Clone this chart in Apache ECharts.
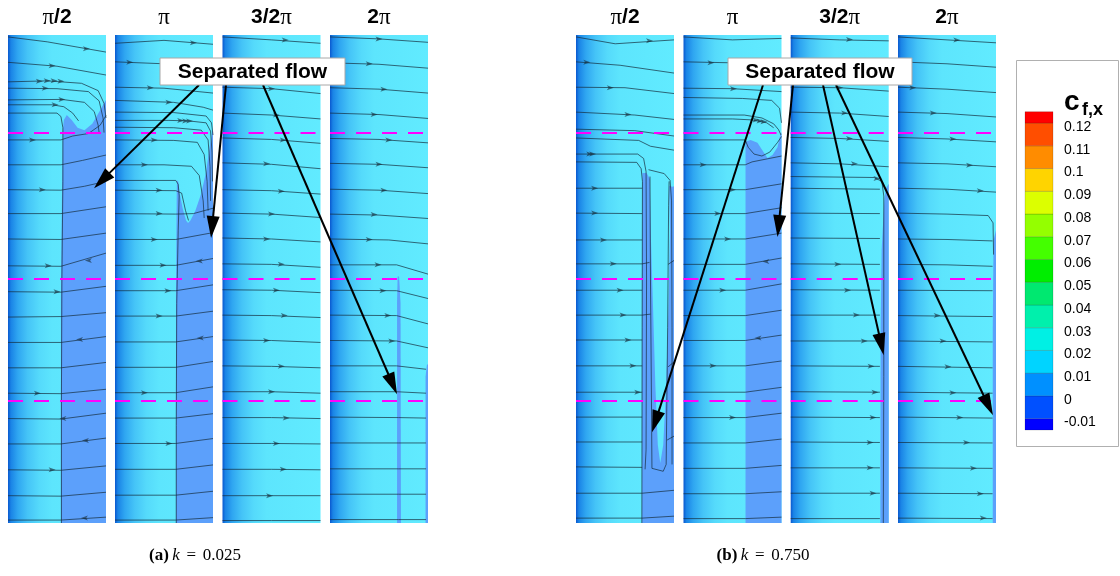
<!DOCTYPE html>
<html>
<head>
<meta charset="utf-8">
<script src="https://cdn.jsdelivr.net/npm/echarts@6/dist/echarts.min.js"></script>
<style>
html,body{margin:0;padding:0;background:#fff;}
#chart{width:1120px;height:576px;}
</style>
</head>
<body>
<div id="chart"></div>
<script>
// ---------- data ----------
const phaseLabels = ['π/2', 'π', '3/2π', '2π'];
const panelTags = ['(a)', '(b)'];
const kValues = ['0.025', '0.750'];
const dashLevels = [80, 50, 25];          // dashed reference heights (% of span)
const stripExtent = [0, 0, 100, 100];     // chordwise %, spanwise %

// colour legend: contour levels, tick labels and band colours (bottom to top)
const cbLevels = [-0.01, 0, 0.01, 0.02, 0.03, 0.04, 0.05, 0.06, 0.07, 0.08, 0.09, 0.1, 0.11, 0.12];
const cbLabels = ['-0.01', '0', '0.01', '0.02', '0.03', '0.04', '0.05', '0.06', '0.07', '0.08', '0.09', '0.1', '0.11', '0.12'];
const cbRange = [-0.015, 0.125];
const cbColors = ['#0000ff', '#0050ff', '#0090ff', '#00d4ff', '#00f0e4', '#00f0ac', '#00e870', '#00ee00', '#44ff00', '#94ff00', '#dcff00', '#ffd400', '#ff8c00', '#ff4e00', '#ff0000'];

// separated-flow regions (cf,x < 0), polygons in strip %
const sepA1 = [[[54,0],[54,46],[55,66],[56,80.5],[57,82.6],[60,83.6],[65,82.6],[71,81],[78,80.5],[86,81.8],[93,84.2],[98,86],[100,86.7],[100,0]]];
const sepA2 = [[[62.2,0],[62.2,46],[63,68],[63.3,70.2],[64.5,70],[66,67.5],[69,64.5],[72.5,62],[74.5,61.5],[77,62],[82,64],[88,67.5],[93,72],[96.5,77],[99,80],[100,80.5],[100,0]]];
const sepA3 = [];
const sepA4 = [[[68.4,0],[68.4,45],[69,50.5],[70.5,50.5],[72,45],[72.4,0]], [[97.5,0],[97.5,30],[99,32.5],[100,32.5],[100,0]]];
const sepB1 = [[[67.3,0],[67.3,50],[67.8,71.7],[72,71.7],[75.5,70.5],[96,69],[98.5,68.9],[100,69],[100,0]]];
const sepB2 = [[[63.3,0],[63.3,60],[63.3,78.1],[68.4,78.5],[75.5,77.9],[81.6,76],[85.7,74.8],[90.8,75.4],[95.9,77],[99,79.8],[100,80],[100,0]]];
const sepB3 = [[[91.5,0],[91.8,40],[92.8,56],[95.5,66],[97,68.5],[100,69.5],[100,0]]];
const sepB4 = [[[96.7,0],[96.7,40],[97.5,58],[100,60],[100,0]]];
// attached tongue inside the separated band of (b) π/2
const attachedB1 = [[[75.5,72],[85,71.5],[95,70],[96,60],[94.5,45],[92,28],[89,16],[86,12.3],[83.5,16],[81,28],[78.5,45],[76.5,58],[75.5,68]]];

// skin-friction streamlines, strip %
const streamA1 = [
 [[0,99.6],[40,98.6],[80,97.2],[100,96.5]],
 [[0,94.4],[50,93.6],[100,91.8]],
 [[0,90.4],[40,90.6],[75,90.1],[92,88.6],[98,86],[100,83]],
 [[0,89.1],[50,89],[82,88.4],[93,86.5],[97,83],[98,80]],
 [[0,86.7],[55,86.8],[78,86.2],[88,84.3],[92,81.5],[93,80]],
 [[0,85.7],[45,85.7],[57,85.3],[66,84],[72,82.4]],
 [[0,84],[50,84],[54,83.3],[56,81],[56,70],[55,50],[54.5,25],[54.5,0]],
 [[0,78.5],[54,78.5],[66,79.3],[82,79.8],[94,81.5],[100,83.5]],
 [[0,73.4],[54,73.4],[76,74.3],[100,75.4]],
 [[0,68.3],[54,68.2],[78,69],[100,70]],
 [[0,63.4],[54,63.4],[100,64.8]],
 [[0,58.2],[54,58.1],[100,59.4]],
 [[0,52.7],[54,52.6],[100,55.3]],
 [[0,47.4],[54,47.3],[100,48.5]],
 [[0,42.2],[54,42.3],[100,43.1]],
 [[0,37],[54,37],[100,38.2]],
 [[0,31.8],[54,31.8],[100,32.9]],
 [[0,26.6],[54,26.5],[100,27.4]],
 [[0,21.4],[54,21.3],[100,22.5]],
 [[0,16.2],[54,16.2],[100,17.4]],
 [[0,10.9],[54,10.8],[100,11.7]],
 [[0,5.6],[54,5.5],[100,6.3]],
 [[0,0.6],[54,0.6],[100,1.2]]
];
const streamA2 = [
 [[0,98.3],[50,98.9],[100,98.1]],
 [[0,94.5],[50,94.1],[100,93.1]],
 [[0,89.3],[50,89.1],[100,88.1]],
 [[0,86.6],[60,86.2],[90,85.2],[100,84.6]],
 [[0,84.2],[60,84.1],[93,83.4],[98.5,82],[100,79.5]],
 [[0,82.5],[55,82.5],[75,82.4],[93,82],[97.5,80.3],[99,76],[99.5,70]],
 [[0,81.1],[60,81],[88,80.5],[95,78.5],[97,73],[97.5,66]],
 [[0,78.5],[60,78.4],[84,78],[91,75.5],[94,70],[95,64]],
 [[0,73.4],[50,73.4],[78,73.1],[86,71.2],[90,66],[91,62.5]],
 [[0,70.2],[62,70.2],[64.5,69.4],[65.5,67],[64.5,60],[63,45],[62.5,20],[62.5,0]],
 [[0,68.2],[62,68.1],[68,67.6],[72,64],[75,62]],
 [[0,63.4],[62,63.3],[80,63.4],[100,64.5]],
 [[0,58.1],[62,58.1],[100,59.5]],
 [[0,52.8],[62,52.8],[100,54.2]],
 [[0,47.6],[62,47.6],[100,48.8]],
 [[0,42.4],[62,42.4],[100,43.4]],
 [[0,37.1],[62,37.1],[100,38.2]],
 [[0,31.9],[62,31.9],[100,33.1]],
 [[0,26.7],[62,26.7],[100,27.9]],
 [[0,21.5],[62,21.5],[100,22.4]],
 [[0,16.3],[62,16.3],[100,17.3]],
 [[0,11],[62,11],[100,11.9]],
 [[0,5.7],[62,5.7],[100,6.5]],
 [[0,0.6],[62,0.6],[100,1.1]]
];
const streamA3 = [
 [[0,99.6],[50,99],[100,98.3]],
 [[0,94.3],[50,93.9],[100,93]],
 [[0,89.3],[50,89],[100,88]],
 [[0,84],[50,83.6],[100,82.8]],
 [[0,78.9],[50,78.6],[100,77.8]],
 [[0,73.8],[50,73.5],[100,72.6]],
 [[0,68.3],[50,68.1],[100,67.4]],
 [[0,63.5],[50,63.3],[100,62.6]],
 [[0,58.4],[50,58.2],[100,57.6]],
 [[0,53.1],[50,53],[100,52.4]],
 [[0,47.8],[50,47.7],[100,47.2]],
 [[0,42.6],[50,42.5],[100,42.1]],
 [[0,37.5],[50,37.4],[100,37]],
 [[0,32.2],[50,32.1],[100,31.8]],
 [[0,26.9],[50,26.9],[100,26.6]],
 [[0,21.6],[50,21.6],[100,21.4]],
 [[0,16.3],[50,16.3],[100,16.2]],
 [[0,11],[50,11],[100,10.9]],
 [[0,5.6],[50,5.6],[100,5.6]],
 [[0,0.5],[50,0.5],[100,0.5]]
];
const streamA4 = [
 [[0,99.6],[50,99.2],[100,98.5]],
 [[0,94.3],[50,94],[100,93.2]],
 [[0,89.2],[50,88.9],[100,88.1]],
 [[0,84],[50,83.7],[100,82.9]],
 [[0,78.8],[50,78.6],[100,77.9]],
 [[0,73.7],[50,73.5],[100,72.8]],
 [[0,68.4],[50,68.2],[100,67.5]],
 [[0,63.3],[50,63.1],[100,62.4]],
 [[0,58.2],[60,58],[100,57.2]],
 [[0,52.9],[68,52.9],[100,51]],
 [[0,47.7],[68,47.6],[100,46]],
 [[0,42.6],[68,42.5],[100,40.8]],
 [[0,37.4],[68,37.3],[100,35.9]],
 [[0,32.2],[68,32.2],[98,31.5]],
 [[0,26.9],[68,26.9],[98,26.6]],
 [[0,21.7],[70,21.6],[98,21.5]],
 [[0,16.4],[70,16.4],[98,16.4]],
 [[0,11.1],[70,11.1],[98,11.1]],
 [[0,5.9],[70,5.9],[98,5.9]],
 [[0,0.7],[70,0.7],[98,0.7]]
];
const streamB1 = [
 [[0,99.6],[40,98.2],[100,99]],
 [[0,94.5],[45,93.8],[100,92.2]],
 [[0,89.3],[50,89.2],[100,88]],
 [[0,84.2],[60,83.6],[100,82.7]],
 [[0,80.7],[60,80.4],[100,79.3]],
 [[0,78.9],[64,78.4],[76,77.2],[100,76.4]],
 [[0,75.6],[63,75.6],[69,74.7],[71.5,72],[72,50],[71.5,15],[70.5,11]],
 [[0,74],[62,73.9],[66.5,72.6],[67.8,70],[67.5,40],[67.2,0]],
 [[74,72.4],[90,71.6],[96,70.2],[97.5,66],[98,40],[98,12]],
 [[75.5,71],[76,50],[77,25],[77.5,11.2],[89,10.6],[92,12],[93.5,40],[94.5,65],[95,70]],
 [[0,68.6],[67.5,68.6]],
 [[0,63.5],[67.5,63.4]],
 [[0,58],[67.5,58]],
 [[0,53.1],[67.5,53.1],[75,53.4]],
 [[0,47.7],[67.5,47.7]],
 [[0,42.6],[67.5,42.6],[76,42.8]],
 [[0,37.5],[67.5,37.5]],
 [[0,32.2],[67.5,32.2]],
 [[0,26.8],[67.5,26.8]],
 [[0,21.7],[67.5,21.7]],
 [[0,16.6],[67.5,16.6]],
 [[0,11.5],[67.5,11.4]],
 [[0,6.1],[67.5,6.1],[100,6.7]],
 [[0,1],[67.5,1],[100,1.4]],
 [[94,53],[100,53.8]],
 [[94,32],[100,33]],
 [[93,17],[100,17.8]]
];
const streamB2 = [
 [[0,99.6],[50,99],[100,99.3]],
 [[0,94.5],[50,94.3],[100,93.6]],
 [[0,89.1],[50,89],[100,88.4]],
 [[0,87.2],[60,87],[90,86.6],[98,85],[100,82]],
 [[0,83.6],[62,83.6],[80,83],[92,81.8],[97,80.6],[99.5,79.5]],
 [[0,82.8],[50,82.8],[70,82.6],[85,82],[92,81]],
 [[0,78.5],[63,78.5],[66,77],[72,75.6],[80,75.2],[88,76],[96,78],[100,79.2]],
 [[0,73.4],[63,73.4],[70,74],[100,75.2]],
 [[0,68.3],[63,68.3],[100,69.5]],
 [[0,63.4],[63,63.4],[100,64.6]],
 [[0,58.2],[63,58.2],[100,59.4]],
 [[0,53],[63,53],[100,54.3]],
 [[0,47.7],[63,47.7],[100,49]],
 [[0,42.5],[63,42.5],[100,43.6]],
 [[0,37.4],[63,37.4],[100,38.5]],
 [[0,32.2],[63,32.2],[100,33.2]],
 [[0,26.8],[63,26.8],[100,27.8]],
 [[0,21.6],[63,21.6],[100,22.5]],
 [[0,16.4],[63,16.4],[100,17.2]],
 [[0,11.2],[63,11.2],[100,11.8]],
 [[0,6],[63,6],[100,6.4]],
 [[0,0.9],[63,0.9],[100,1.2]]
];
const streamB3 = [
 [[0,99.4],[50,99],[100,98.8]],
 [[0,94.4],[50,94],[100,93.4]],
 [[0,89.3],[50,89.2],[100,88.5]],
 [[0,84.2],[50,84],[100,83.3]],
 [[0,79],[50,78.8],[100,78.2]],
 [[0,73.8],[50,73.6],[100,73]],
 [[0,71],[85,70.8],[93,70],[95,67],[95,30],[94.5,0]],
 [[0,68.6],[91,68.4]],
 [[0,63.5],[91,63.4]],
 [[0,58.4],[91,58.3]],
 [[0,53.1],[91,53]],
 [[0,47.8],[91,47.7]],
 [[0,42.6],[91,42.6]],
 [[0,37.3],[91,37.3]],
 [[0,32.2],[91,32.1]],
 [[0,26.9],[91,26.8]],
 [[0,21.7],[91,21.6]],
 [[0,16.6],[91,16.5]],
 [[0,11.3],[91,11.3]],
 [[0,6.1],[91,6.1]],
 [[0,0.9],[91,0.9]]
];
const streamB4 = [
 [[0,99.6],[50,99],[100,98.4]],
 [[0,94.5],[50,94.1],[100,93.4]],
 [[0,89.3],[50,88.9],[100,88.2]],
 [[0,84.2],[50,83.9],[100,83.2]],
 [[0,79],[50,78.7],[100,78.1]],
 [[0,73.8],[50,73.6],[100,73]],
 [[0,68.6],[50,68.4],[100,67.8]],
 [[0,63.5],[50,63.3],[92,63],[97,61.5],[97.5,55]],
 [[0,58.2],[50,58.1],[96.5,57.8]],
 [[0,53],[50,52.9],[96.5,52.6]],
 [[0,47.7],[96.5,47.6]],
 [[0,42.5],[96.5,42.3]],
 [[0,37.3],[96.5,37.1]],
 [[0,32.1],[96.5,31.8]],
 [[0,26.8],[96.5,26.6]],
 [[0,21.7],[96.5,21.5]],
 [[0,16.5],[96.5,16.4]],
 [[0,11.3],[96.5,11.2]],
 [[0,6.1],[96.5,6]],
 [[0,1],[96.5,0.9]]
];

// flow-direction arrowheads: [x %, y %, direction deg]
const arrowsA1 = [[80,97.2,0],[45,93.7,0],[32,90.5,0],[40,90.6,0],[47,90.6,0],[54,90.5,0],[38,89.1,0],[55,86.8,0],[48,85.7,0],[25,78.5,0],[35,68.3,0],[41,52.7,0],[82,53.8,180],[50,47.4,0],[73,37.6,180],[30,26.6,0],[56,21.4,180],[79,16.9,180],[45,10.9,0],[78,1,180]];
const arrowsA2 = [[80,98.4,0],[15,94.4,0],[36,89.2,0],[55,86.2,0],[67,82.5,0],[72,82.4,0],[76,82.4,0],[40,78.5,0],[30,73.4,0],[45,68.2,0],[45,63.4,0],[40,58.1,0],[49,52.8,0],[86,53.7,180],[54,47.6,0],[45,42.4,0],[87,37.9,180],[30,26.7,0],[55,16.3,0]];
const arrowsA3 = [[64,99,0],[60,93.8,0],[50,89,0],[55,83.6,0],[62,78.5,0],[45,73.6,0],[60,68,0],[50,63.3,0],[45,58.2,0],[60,53,0],[55,47.7,0],[63,42.5,0],[45,37.4,0],[60,32.1,0],[50,26.9,0],[65,21.5,0],[55,16.3,0],[62,11,0],[48,5.6,0]];
const arrowsA4 = [[50,99.2,0],[40,94.1,0],[55,88.9,0],[45,83.7,0],[60,78.5,0],[50,73.5,0],[55,68.2,0],[45,63.2,0],[40,58.1,0],[49,52.9,0],[54,47.6,0],[59,42.5,0],[63,37.3,0]];
const arrowsB1 = [[75,98.8,0],[11,94.4,0],[35,89.2,0],[53,83.7,0],[14,75.6,0],[17,75.6,0],[19,68.6,0],[19,63.5,0],[28,58,0],[38,53.1,0],[45,47.7,0],[48,42.6,0],[53,37.5,0],[58,32.2,0],[63,26.8,0]];
const arrowsB2 = [[28,94.3,0],[51,89,0],[74,82.6,0],[78,82.4,0],[82,82.2,0],[20,73.4,0],[50,68.3,0],[35,63.4,0],[45,58.2,0],[84,53.6,180],[40,47.7,0],[76,37.9,180],[30,32.2,0],[50,21.6,0]];
const arrowsB3 = [[60,99.1,0],[45,94.1,0],[50,89.2,0],[55,84,0],[60,78.8,0],[65,73.6,0],[88,70.6,0],[48,53,0],[58,47.7,0],[67,42.6,0],[75,37.3,0],[82,32.1,0],[86,26.8,0],[84,21.6,0],[81,16.5,0],[81,11.3,0],[84,6.1,0]];
const arrowsB4 = [[60,99,0],[15,89.2,0],[36,84,0],[56,78.7,0],[73,73.3,0],[84,68.1,0],[40,42.5,0],[46,37.3,0],[51,32,0],[56,26.7,0],[63,21.6,0],[70,16.5,0],[77,11.2,0],[84,6,0],[87,1,0]];

// callout targets: [strip index, x %, y %]
const calloutTipsA = [[0,87.8,68.6],[1,98,58.4],[3,68.4,26.4]];
const calloutTipsB = [[4,77.6,18.6],[5,95.9,58.6],[6,94.9,34.4],[7,96.9,22.1]];

// ---------- layout ----------
const stripLefts = [8, 115, 222.5, 330, 576, 683.5, 790.7, 898];
const STRIP_W = 98, STRIP_TOP = 35, STRIP_H = 488;
const strips = [
  {lines: streamA1, arrows: arrowsA1, sep: sepA1, attached: []},
  {lines: streamA2, arrows: arrowsA2, sep: sepA2, attached: []},
  {lines: streamA3, arrows: arrowsA3, sep: sepA3, attached: []},
  {lines: streamA4, arrows: arrowsA4, sep: sepA4, attached: []},
  {lines: streamB1, arrows: arrowsB1, sep: sepB1, attached: attachedB1},
  {lines: streamB2, arrows: arrowsB2, sep: sepB2, attached: []},
  {lines: streamB3, arrows: arrowsB3, sep: sepB3, attached: []},
  {lines: streamB4, arrows: arrowsB4, sep: sepB4, attached: []}
];

const SURFACE = {
  type: 'linear', x: 0, y: 0, x2: 1, y2: 0,
  colorStops: [
    {offset: 0, color: '#0a58cf'}, {offset: 0.03, color: '#1a84e6'},
    {offset: 0.1, color: '#2fa6f1'}, {offset: 0.2, color: '#45c4f7'},
    {offset: 0.32, color: '#55dafb'}, {offset: 0.45, color: '#5de5fd'},
    {offset: 1, color: '#61ebff'}
  ]
};
const SEP_COLOR = '#5ca0fb';
const ATTACHED_COLOR = '#60e8fe';
const STREAK = 'rgba(22,45,60,0.78)';

function titleRich(label) {
  const parts = label.split('π');
  return (parts[0] ? '{b|' + parts[0] + '}' : '') + '{p|π}' + (parts[1] ? '{b|' + parts[1] + '}' : '');
}

const grids = [], xAxes = [], yAxes = [], series = [];

strips.forEach((s, g) => {
  grids.push({left: stripLefts[g], top: STRIP_TOP, width: STRIP_W, height: STRIP_H});
  xAxes.push({
    gridIndex: g, type: 'value', min: 0, max: 100, position: 'top',
    axisLine: {show: false}, axisTick: {show: false}, axisLabel: {show: false}, splitLine: {show: false},
    name: titleRich(phaseLabels[g % 4]), nameLocation: 'middle', nameGap: 6,
    nameTextStyle: {
      rich: {
        p: {fontFamily: 'Liberation Serif', fontSize: 23, color: '#000'},
        b: {fontFamily: 'Liberation Sans', fontWeight: 'bold', fontSize: 21, color: '#000'}
      }
    }
  });
  yAxes.push({gridIndex: g, type: 'value', min: 0, max: 100, show: false});

  // shaded cylinder surface
  series.push({
    type: 'custom', xAxisIndex: g, yAxisIndex: g, silent: true, z: 1, clip: true,
    data: [stripExtent],
    renderItem: (p, api) => {
      const a = api.coord([api.value(0), api.value(3)]);
      const b = api.coord([api.value(2), api.value(1)]);
      return {type: 'rect', shape: {x: a[0], y: a[1], width: b[0] - a[0], height: b[1] - a[1]}, style: {fill: SURFACE}};
    }
  });
  // separated and re-attached regions
  const polys = s.sep.map(pts => ({pts, fill: SEP_COLOR})).concat(s.attached.map(pts => ({pts, fill: ATTACHED_COLOR})));
  if (polys.length) {
    series.push({
      type: 'custom', xAxisIndex: g, yAxisIndex: g, silent: true, z: 2, clip: true,
      data: polys.map((q, i) => [q.pts[0][0], q.pts[0][1], i]),
      renderItem: (p, api) => {
        const q = polys[api.value(2)];
        return {type: 'polygon', shape: {points: q.pts.map(v => api.coord(v))}, style: {fill: q.fill}};
      }
    });
  }
  // streamlines
  series.push({
    type: 'lines', coordinateSystem: 'cartesian2d', xAxisIndex: g, yAxisIndex: g,
    polyline: true, silent: true, z: 3, animation: false,
    data: s.lines.map(c => ({coords: c})),
    lineStyle: {color: STREAK, width: 0.9, opacity: 1}
  });
  // arrowheads + dashed reference lines
  series.push({
    type: 'scatter', xAxisIndex: g, yAxisIndex: g, silent: true, z: 4,
    data: s.arrows,
    symbol: 'path://M0,0L10,4L0,8L2.5,4Z',
    symbolSize: [7, 5],
    symbolRotate: v => v[2],
    itemStyle: {color: STREAK},
    markLine: {
      silent: true, symbol: 'none', label: {show: false}, animation: false,
      lineStyle: {color: '#ff00ff', type: [15, 11], width: 2},
      emphasis: {disabled: true},
      data: dashLevels.map(v => ({yAxis: v}))
    }
  });
});

// colour legend
const cbG = strips.length;
grids.push({left: 1025, top: 111.7, width: 28, height: 318.3});
xAxes.push({gridIndex: cbG, type: 'value', min: 0, max: 1, show: false});
yAxes.push({gridIndex: cbG, type: 'value', min: cbRange[0], max: cbRange[1], show: false});
series.push({
  type: 'custom', xAxisIndex: cbG, yAxisIndex: cbG, silent: true, z: 2,
  data: cbColors.map((c, i) => [i]),
  renderItem: (p, api) => {
    const i = api.value(0);
    const lo = i === 0 ? cbRange[0] : cbLevels[i - 1];
    const hi = i === cbLevels.length ? cbRange[1] : cbLevels[i];
    const a = api.coord([0, hi]), b = api.coord([1, lo]);
    return {type: 'rect', shape: {x: a[0], y: a[1], width: b[0] - a[0], height: b[1] - a[1]},
      style: {fill: cbColors[i], stroke: 'rgba(0,0,0,0.25)', lineWidth: 0.6}};
  }
});
series.push({
  type: 'custom', xAxisIndex: cbG, yAxisIndex: cbG, silent: true, z: 3,
  data: cbLevels.map((v, i) => [1, v, i]),
  renderItem: (p, api) => {
    const c = api.coord([api.value(0), api.value(1)]);
    return {type: 'text', x: c[0] + 11, y: c[1] + 4,
      style: {text: cbLabels[api.value(2)], font: '14px "Liberation Sans"', fill: '#000', align: 'left', verticalAlign: 'middle'}};
  }
});

const chart = echarts.init(document.getElementById('chart'), null, {renderer: 'canvas'});
chart.setOption({
  animation: false,
  backgroundColor: '#fff',
  grid: grids, xAxis: xAxes, yAxis: yAxes, series: series
});

// ---------- callouts, legend frame, captions ----------
function arrow(sx, sy, tx, ty) {
  const dx = tx - sx, dy = ty - sy, L = Math.hypot(dx, dy);
  const ux = dx / L, uy = dy / L, px = -uy, py = ux;
  const hl = 22, hw = 6.5;
  const bx = tx - ux * hl, by = ty - uy * hl;
  return [
    {type: 'line', z: 100, shape: {x1: sx, y1: sy, x2: bx + ux * 3, y2: by + uy * 3}, style: {stroke: '#000', lineWidth: 2}},
    {type: 'polygon', z: 100, shape: {points: [[tx, ty], [bx + px * hw, by + py * hw], [bx - px * hw, by - py * hw]]}, style: {fill: '#000'}}
  ];
}
function callout(box, starts, tips) {
  const [bx, by, bw, bh] = box;
  let els = [];
  tips.forEach((t, i) => {
    const tip = chart.convertToPixel({gridIndex: t[0]}, [t[1], t[2]]);
    els = els.concat(arrow(bx + starts[i], by + bh, tip[0], tip[1]));
  });
  els.push({type: 'rect', z: 101, shape: {x: bx, y: by, width: bw, height: bh}, style: {fill: '#fff', stroke: '#a8a8a8', lineWidth: 1}});
  els.push({type: 'text', z: 102, style: {text: 'Separated flow', x: bx + bw / 2, y: by + bh / 2 + 1, align: 'center', verticalAlign: 'middle', font: 'bold 21px "Liberation Sans"', fill: '#000'}});
  return els;
}
function caption(cx, tag, k) {
  return {type: 'text', z: 100, style: {
    text: '{b|' + tag + '} {i|k}  {n|=}  {n|' + k + '}', x: cx, y: 556, align: 'center', verticalAlign: 'middle',
    rich: {
      b: {fontFamily: 'Liberation Serif', fontWeight: 'bold', fontSize: 17, fill: '#000'},
      i: {fontFamily: 'Liberation Serif', fontStyle: 'italic', fontSize: 17, fill: '#000'},
      n: {fontFamily: 'Liberation Serif', fontSize: 17, fill: '#000'}
    }
  }};
}

let graphics = [];
graphics = graphics.concat(callout([160, 58, 185, 27], [39, 66, 103], calloutTipsA));
graphics = graphics.concat(callout([728, 58, 184, 27], [35, 65, 95, 108], calloutTipsB));
graphics.push({type: 'rect', z: 1, shape: {x: 1016.5, y: 60.5, width: 102, height: 386}, style: {fill: '#fff', stroke: '#b0b0b0', lineWidth: 1}});
graphics.push({type: 'text', z: 5, style: {text: 'c', x: 1064, y: 116, verticalAlign: 'bottom', font: 'bold 28px "Liberation Sans"', fill: '#000'}});
graphics.push({type: 'text', z: 5, style: {text: 'f,x', x: 1082, y: 119, verticalAlign: 'bottom', font: 'bold 18px "Liberation Sans"', fill: '#000'}});
graphics.push(caption(195, panelTags[0], kValues[0]));
graphics.push(caption(763, panelTags[1], kValues[1]));
chart.setOption({graphic: graphics});
</script>
</body>
</html>
